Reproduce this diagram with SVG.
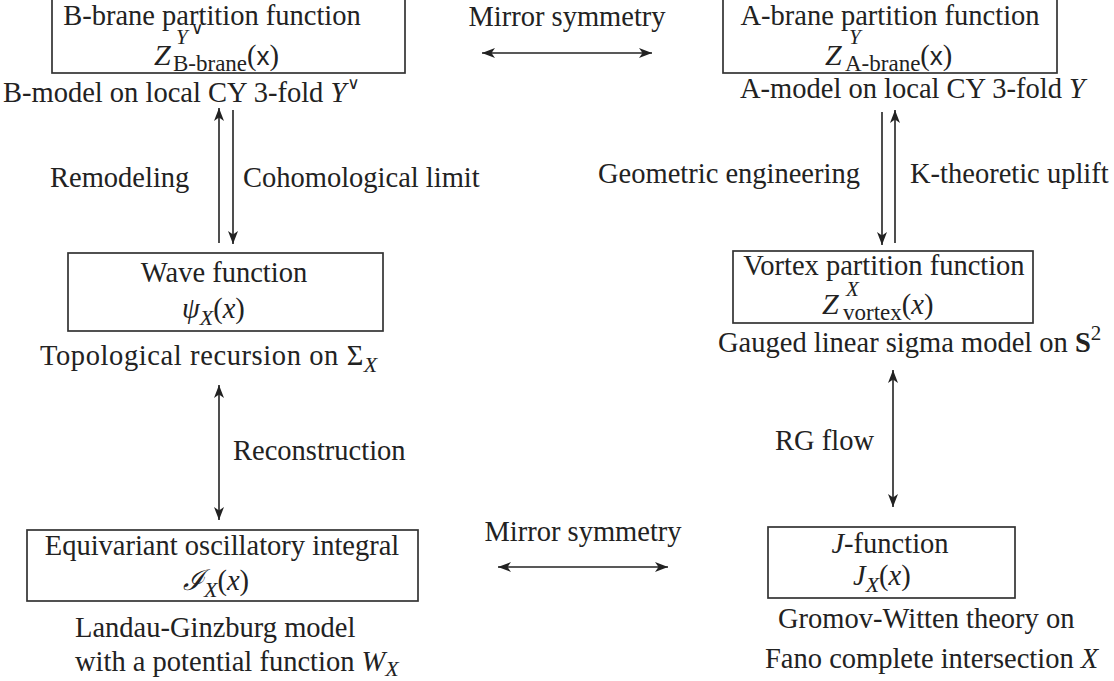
<svg xmlns="http://www.w3.org/2000/svg" width="1114" height="681" viewBox="0 0 1114 681">
<style>
.t{font-family:"Liberation Serif","Times New Roman",serif;font-size:28.5px;fill:#222}
.i{font-style:italic}
.z{font-size:30px}
.sub{font-size:22px}
.bsub{font-size:23px}
.sup{font-size:21px}
.wedge{font-family:"DejaVu Sans",sans-serif;font-size:17px}
.sans{font-family:"Liberation Sans",Arial,sans-serif;font-size:26px}
.m{text-anchor:middle}
.box{fill:#fff;stroke:#333;stroke-width:1.7}
.arr{stroke:#222;stroke-width:1.6;fill:none}
</style>
<defs>
<marker id="ah" viewBox="0 0 13 10" refX="13" refY="5" markerWidth="13" markerHeight="10" markerUnits="userSpaceOnUse" orient="auto-start-reverse">
<path d="M0,0 L13,5 L0,10 L3.5,5 Z" fill="#222"/>
</marker>
</defs>
<rect width="1114" height="681" fill="#fff"/>

<g id="connectors">
<line class="arr" x1="482" y1="53" x2="652" y2="53" marker-start="url(#ah)" marker-end="url(#ah)"/>
<line class="arr" x1="219" y1="243" x2="219" y2="108" marker-end="url(#ah)"/>
<line class="arr" x1="233" y1="110" x2="233" y2="244" marker-end="url(#ah)"/>
<line class="arr" x1="882" y1="112" x2="882" y2="245" marker-end="url(#ah)"/>
<line class="arr" x1="895" y1="243" x2="895" y2="110" marker-end="url(#ah)"/>
<line class="arr" x1="219" y1="385" x2="219" y2="520" marker-start="url(#ah)" marker-end="url(#ah)"/>
<line class="arr" x1="893" y1="370" x2="893" y2="507" marker-start="url(#ah)" marker-end="url(#ah)"/>
<line class="arr" x1="498" y1="567" x2="668" y2="567" marker-start="url(#ah)" marker-end="url(#ah)"/>
<text class="t m" x="567" y="26">Mirror symmetry</text>
<text class="t m" x="583" y="541">Mirror symmetry</text>
<text class="t" x="50" y="187">Remodeling</text>
<text class="t" x="243" y="187">Cohomological limit</text>
<text class="t" x="598" y="183">Geometric engineering</text>
<text class="t" x="910" y="183">K-theoretic uplift</text>
<text class="t" x="233" y="460">Reconstruction</text>
<text class="t" x="775" y="450">RG flow</text>
</g>

<g id="node-bbrane">
<rect class="box" x="52" y="-3" width="353" height="76"/>
<text class="t m" x="212" y="25">B-brane partition function</text>
<text class="t"><tspan class="i z" x="154" y="65">Z</tspan><tspan class="i sup" x="176" y="44">Y</tspan><tspan class="wedge" x="191" y="34">∨</tspan><tspan class="bsub" x="173" y="71">B-brane</tspan><tspan y="65">(</tspan><tspan class="sans">x</tspan><tspan>)</tspan></text>
<text class="t" x="3" y="102">B-model on local CY 3-fold <tspan class="i">Y</tspan><tspan class="wedge" dx="1" dy="-13">∨</tspan></text>
</g>

<g id="node-abrane">
<rect class="box" x="723" y="-3" width="334" height="76"/>
<text class="t m" x="890" y="25">A-brane partition function</text>
<text class="t"><tspan class="i z" x="825" y="65">Z</tspan><tspan class="i sup" x="849" y="44">Y</tspan><tspan class="bsub" x="845" y="71">A-brane</tspan><tspan y="65">(</tspan><tspan class="sans">x</tspan><tspan>)</tspan></text>
<text class="t" x="740" y="98">A-model on local CY 3-fold <tspan class="i">Y</tspan></text>
</g>

<g id="node-wave">
<rect class="box" x="68" y="253" width="315" height="78"/>
<text class="t m" x="224" y="282">Wave function</text>
<text class="t"><tspan class="i" x="182" y="318">ψ</tspan><tspan class="i sub" y="325">X</tspan><tspan y="318">(</tspan><tspan class="i">x</tspan><tspan>)</tspan></text>
<text class="t" x="40" y="365" letter-spacing="0.6">Topological recursion on Σ<tspan class="i sub" dy="7">X</tspan></text>
</g>

<g id="node-vortex">
<rect class="box" x="733" y="251" width="300" height="72"/>
<text class="t m" x="884" y="275">Vortex partition function</text>
<text class="t"><tspan class="i z" x="822" y="314">Z</tspan><tspan class="i sup" x="846" y="296">X</tspan><tspan class="bsub" x="843" y="320">vortex</tspan><tspan y="314">(</tspan><tspan class="i">x</tspan><tspan>)</tspan></text>
<text class="t" x="718" y="352">Gauged linear sigma model on <tspan font-weight="bold">S</tspan><tspan class="sup" dy="-12">2</tspan></text>
</g>

<g id="node-integral">
<rect class="box" x="27" y="530" width="391" height="71"/>
<text class="t m" x="222" y="555">Equivariant oscillatory integral</text>
<text class="t"><tspan style="font-family:'DejaVu Serif',serif;font-style:italic" x="183" y="590">ℐ</tspan><tspan class="i sub" y="597">X</tspan><tspan y="590">(</tspan><tspan class="i">x</tspan><tspan>)</tspan></text>
<text class="t" x="75" y="637">Landau-Ginzburg model</text>
<text class="t" x="75" y="671">with a potential function <tspan class="i">W</tspan><tspan class="i sub" dy="5">X</tspan></text>
</g>

<g id="node-jfunction">
<rect class="box" x="768" y="527" width="247" height="71"/>
<text class="t m" x="890" y="553"><tspan class="i">J</tspan>-function</text>
<text class="t"><tspan class="i" x="853" y="585">J</tspan><tspan class="i sub" y="592">X</tspan><tspan y="585">(</tspan><tspan class="i">x</tspan><tspan>)</tspan></text>
<text class="t" x="778" y="628">Gromov-Witten theory on</text>
<text class="t" x="765" y="668">Fano complete intersection <tspan class="i">X</tspan></text>
</g>
</svg>
